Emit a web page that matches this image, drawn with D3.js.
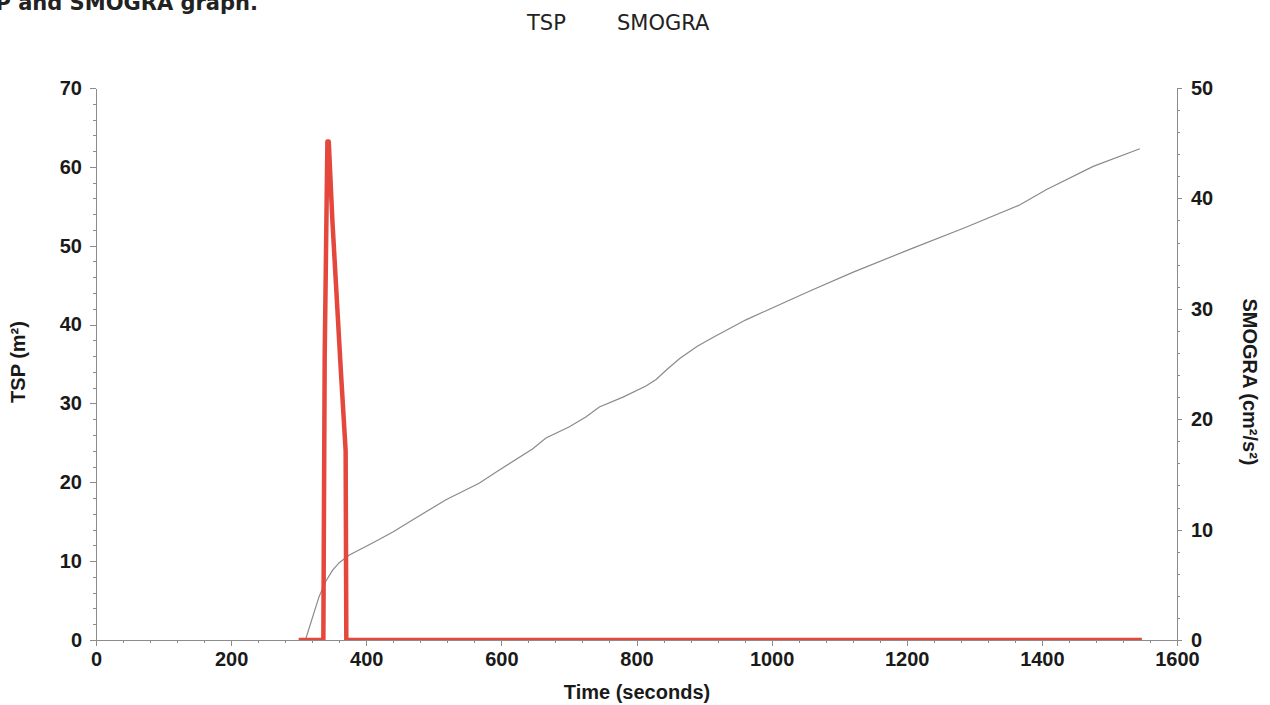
<!DOCTYPE html>
<html>
<head>
<meta charset="utf-8">
<script src="https://cdn.jsdelivr.net/npm/d3@7"></script>
<style>
  html, body { margin: 0; padding: 0; background: #fff; }
  svg { display: block; }
  .tick text { font-family: "Liberation Sans", Arial, sans-serif; font-weight: bold; font-size: 20px; fill: #1a1a1a; }
  .axis path, .axis line { stroke: #8c8c8c; stroke-width: 1; shape-rendering: crispEdges; }
</style>
</head>
<body>
<svg id="chart" width="1270" height="705"></svg>
<script>
// TSP (total smoke production) over time
const tspTime  = [300, 336.5, 338.5, 342.5, 344.5, 350, 362.5, 369.5, 370.5, 1548];
const tspValue = [0,   0,     36,    63.2,  63.2,  53,  34,    24,    0,     0];

// SMOGRA (smoke growth rate) over time
const smograTime  = [310, 330, 340, 350, 360, 375, 400, 419, 440, 469, 518, 567, 597, 646, 666, 700, 725, 745, 780, 814, 829, 845, 864, 890, 913, 962, 1027, 1060, 1120, 1209, 1284, 1367, 1407, 1476, 1545];
const smograValue = [0,   3.9, 5.3, 6.3, 7.0, 7.7, 8.5, 9.1, 9.8, 10.9, 12.7, 14.2, 15.4, 17.3, 18.3, 19.3, 20.2, 21.1, 22.0, 23.0, 23.6, 24.5, 25.5, 26.6, 27.4, 29.0, 30.8, 31.7, 33.3, 35.5, 37.3, 39.4, 40.8, 42.9, 44.5];

// Axis ticks
const xMajor = [0, 200, 400, 600, 800, 1000, 1200, 1400, 1600];
const xMinor = d3.range(0, 1601, 40);
const yLeftMajor = [0, 10, 20, 30, 40, 50, 60, 70];
const yLeftMinor = d3.range(0, 71, 2);
const yRightMajor = [0, 10, 20, 30, 40, 50];
const yRightMinor = d3.range(0, 51, 2);

const legendLabels = ["TSP", "SMOGRA"];

const svg = d3.select("#chart");
const plotLeft = 96, plotRight = 1177, plotTop = 88, plotBottom = 640;

const x  = d3.scaleLinear().domain([0, 1600]).range([plotLeft, plotRight]);
const yL = d3.scaleLinear().domain([0, 70]).range([plotBottom, plotTop]);
const yR = d3.scaleLinear().domain([0, 50]).range([plotBottom, plotTop]);

// Title (runs off the top edge of the page)
svg.append("text")
  .attr("x", -34).attr("y", 10)
  .style("font-family", "'DejaVu Sans', Verdana, sans-serif")
  .style("font-weight", "bold").style("font-size", "21px").style("fill", "#222")
  .text("TSP and SMOGRA graph.");

// Legend
const legendX = [527, 617];
svg.selectAll(".legend").data(legendLabels).enter().append("text")
  .attr("class", "legend")
  .attr("x", (d, i) => legendX[i]).attr("y", 30)
  .style("font-family", "'DejaVu Sans', Verdana, sans-serif")
  .style("font-size", "21px").style("fill", "#222")
  .text(d => d);

// X axis
svg.append("g").attr("class", "axis").attr("transform", `translate(0,${plotBottom})`)
  .call(d3.axisBottom(x).tickValues(xMinor).tickSize(3).tickSizeOuter(0).tickFormat(""));
svg.append("g").attr("class", "axis").attr("transform", `translate(0,${plotBottom})`)
  .call(d3.axisBottom(x).tickValues(xMajor).tickSize(6).tickSizeOuter(0).tickPadding(6).tickFormat(d3.format("d")));

// Left axis
svg.append("g").attr("class", "axis").attr("transform", `translate(${plotLeft},0)`)
  .call(d3.axisLeft(yL).tickValues(yLeftMinor).tickSize(3).tickSizeOuter(0).tickFormat(""));
svg.append("g").attr("class", "axis").attr("transform", `translate(${plotLeft},0)`)
  .call(d3.axisLeft(yL).tickValues(yLeftMajor).tickSize(6).tickSizeOuter(0).tickPadding(8));

// Right axis
svg.append("g").attr("class", "axis").attr("transform", `translate(${plotRight},0)`)
  .call(d3.axisRight(yR).tickValues(yRightMinor).tickSize(3).tickSizeOuter(0).tickFormat(""));
svg.append("g").attr("class", "axis").attr("transform", `translate(${plotRight},0)`)
  .call(d3.axisRight(yR).tickValues(yRightMajor).tickSize(5).tickSizeOuter(0).tickPadding(9));

// Axis titles
const titleStyle = sel => sel
  .style("font-family", "'Liberation Sans', Arial, sans-serif")
  .style("font-weight", "bold").style("font-size", "20px").style("fill", "#1a1a1a")
  .attr("text-anchor", "middle");

svg.append("text").call(titleStyle)
  .attr("x", 637).attr("y", 699).text("Time (seconds)");

svg.append("text").call(titleStyle)
  .attr("transform", "translate(25,362) rotate(-90)").text("TSP (m²)");

svg.append("text").call(titleStyle)
  .attr("transform", "translate(1243,382) rotate(90)").text("SMOGRA (cm²/s²)");

// Plot-area clip
svg.append("clipPath").attr("id", "plot-clip")
  .append("rect").attr("x", plotLeft).attr("y", 0).attr("width", plotRight - plotLeft).attr("height", plotBottom);

const plot = svg.append("g").attr("clip-path", "url(#plot-clip)");

// SMOGRA line (right axis)
const smograData = smograTime.map((t, i) => [t, smograValue[i]]);
plot.append("path").datum(smograData)
  .attr("fill", "none").attr("stroke", "#8a8a8a").attr("stroke-width", 1.2)
  .attr("d", d3.line().x(d => x(d[0])).y(d => yR(d[1])));

// TSP line (left axis)
const tspData = tspTime.map((t, i) => [t, tspValue[i]]);
plot.append("path").datum(tspData)
  .attr("fill", "none").attr("stroke", "#e4473c").attr("stroke-width", 4.5)
  .attr("stroke-linejoin", "round")
  .attr("d", d3.line().x(d => x(d[0])).y(d => yL(d[1])));
</script>
</body>
</html>
